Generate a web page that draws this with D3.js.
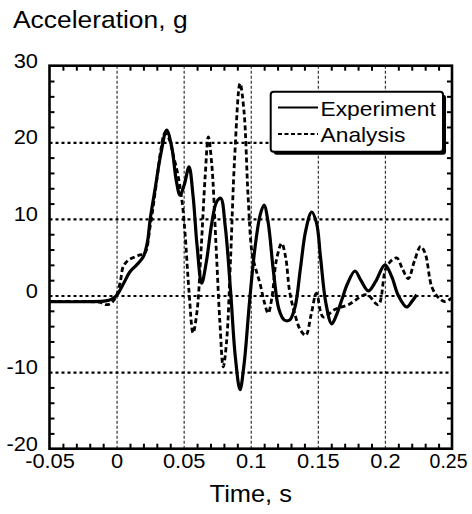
<html>
<head>
<script src="https://d3js.org/d3.v7.min.js"></script>
<style>
  body { margin: 0; background: #fff; }
  text { font-family: "Liberation Sans", Arial, Helvetica, sans-serif; fill: #000; }
  .domain { display: none; }
</style>
</head>
<body>
<svg width="472" height="514"></svg>
<script>
// values
var xTicks = [-0.05, 0, 0.05, 0.1, 0.15, 0.2, 0.25];
var xTickLabels = ["-0.05", "0", "0.05", "0.1", "0.15", "0.2", "0.25"];
var yTicks = [-20, -10, 0, 10, 20, 30];
var yTickLabels = ["-20", "-10", "0", "10", "20", "30"];
var xGrid = [0, 0.05, 0.1, 0.15, 0.2];
var yGrid = [-10, 0, 10, 20];

var expTime = [-0.05, -0.02, -0.008, -0.004, 0, 0.005, 0.01, 0.015, 0.02, 0.023, 0.025, 0.0286, 0.033, 0.0373, 0.041, 0.0445, 0.0473, 0.0505, 0.054, 0.057, 0.060, 0.0634, 0.067, 0.071, 0.0745, 0.0776, 0.081, 0.085, 0.0885, 0.092, 0.095, 0.099, 0.103, 0.107, 0.1099, 0.113, 0.117, 0.121, 0.125, 0.129, 0.133, 0.137, 0.141, 0.1454, 0.149, 0.152, 0.156, 0.1603, 0.164, 0.168, 0.172, 0.1777, 0.182, 0.1876, 0.193, 0.2, 0.205, 0.21, 0.2162, 0.22, 0.2237];
var expAcc = [-0.8, -0.8, -0.7, -0.5, 0.0, 1.5, 3.1, 4.0, 5.1, 7.0, 9.9, 13.8, 18.5, 21.6, 19.5, 15.0, 13.1, 14.5, 16.8, 13, 6.5, 1.6, 4.5, 9.5, 12.2, 12.7, 9, 0.5, -8, -12.3, -9, -1, 6, 10.5, 11.8, 9.5, 3, -1.8, -3.2, -3.2, -1.5, 3.5, 8.5, 10.9, 9.5, 5, -1, -3.7, -2.5, -0.5, 1.5, 3.2, 2.0, 0.6, 1.8, 4.0, 2.5, 0, -1.5, -0.8, 0.1];

var anaTime = [-0.05, -0.02, -0.012, -0.008, -0.004, 0, 0.003, 0.005, 0.0087, 0.013, 0.0174, 0.021, 0.025, 0.03, 0.033, 0.036, 0.039, 0.042, 0.046, 0.049, 0.051, 0.054, 0.057, 0.06, 0.063, 0.066, 0.0684, 0.071, 0.074, 0.077, 0.0795, 0.082, 0.085, 0.088, 0.092, 0.095, 0.098, 0.101, 0.104, 0.107, 0.11, 0.113, 0.116, 0.119, 0.123, 0.126, 0.129, 0.133, 0.137, 0.141, 0.145, 0.149, 0.154, 0.163, 0.1727, 0.1864, 0.195, 0.2013, 0.2087, 0.213, 0.2174, 0.222, 0.2266, 0.23, 0.235, 0.24, 0.2448, 0.25];
var anaAcc = [-0.8, -0.8, -0.9, -1.2, -1.0, 0.0, 2.0, 3.8, 4.6, 5.0, 5.3, 5.5, 9.0, 15.1, 19, 21.2, 20.5, 18.5, 15.5, 12, 8.2, 0.5, -4.9, -2, 6, 15.5, 20.7, 17, 7, -3.5, -9.3, -6, 5, 18, 27.7, 24, 13, 5.5, 3.3, 1.5, -0.8, -2.3, 0, 4.5, 6.8, 5, 0.5, -2.5, -4.5, -5.2, -2.5, 0.3, -2.8, -1.8, -1.2, 0.1, -1.2, 3.8, 4.9, 3.5, 2.2, 4.5, 6.4, 5.5, 1.1, -0.3, -0.8, -0.3];

var margin = {top: 65.7, left: 49.5};
var width = 402.5, height = 383;
var sx = 1.12;  // glyphs in the picture are a bit wider than Arial

var x = d3.scaleLinear().domain([-0.05, 0.25]).range([0, width]);
var y = d3.scaleLinear().domain([-20, 30]).range([height, 0]);

var svg = d3.select("svg");
var g = svg.append("g").attr("transform", "translate(" + margin.left + "," + margin.top + ")");

// grid
g.append("g").attr("transform", "translate(0," + height + ")")
  .call(d3.axisBottom(x).tickValues(xGrid).tickSize(-height).tickFormat(""))
  .selectAll("line").attr("stroke", "#333").attr("stroke-width", 1.2).attr("stroke-dasharray", "3,2");
g.append("g")
  .call(d3.axisLeft(y).tickValues(yGrid).tickSize(-width).tickFormat(""))
  .selectAll("line").attr("stroke", "#000").attr("stroke-width", 2.2).attr("stroke-dasharray", "3,3");

// minor ticks, inward on all four sides
var xMinor = d3.range(-4, 25).filter(function(v){ return v % 5 != 0; }).map(function(v){ return v / 100; });
var yMinor = d3.range(-18, 30, 2).filter(function(v){ return v % 10 != 0; });
function styleTicks(sel) { sel.selectAll("line").attr("stroke", "#000").attr("stroke-width", 2); }
g.append("g").attr("transform", "translate(0," + height + ")")
  .call(d3.axisBottom(x).tickValues(xMinor).tickSize(-5).tickFormat("")).call(styleTicks);
g.append("g")
  .call(d3.axisTop(x).tickValues(xMinor).tickSize(-5).tickFormat("")).call(styleTicks);
g.append("g")
  .call(d3.axisLeft(y).tickValues(yMinor).tickSize(-5).tickFormat("")).call(styleTicks);
g.append("g").attr("transform", "translate(" + width + ",0)")
  .call(d3.axisRight(y).tickValues(yMinor).tickSize(-5).tickFormat("")).call(styleTicks);

// curves
var line = d3.line().curve(d3.curveCatmullRom.alpha(0.5))
  .x(function(d){ return x(d[0]); }).y(function(d){ return y(d[1]); });
svg.append("clipPath").attr("id", "clip").append("rect").attr("width", width).attr("height", height);
g.append("path").datum(d3.zip(anaTime, anaAcc)).attr("d", line).attr("clip-path", "url(#clip)")
  .attr("fill", "none").attr("stroke", "#000").attr("stroke-width", 2.8).attr("stroke-dasharray", "5,3");
g.append("path").datum(d3.zip(expTime, expAcc)).attr("d", line).attr("clip-path", "url(#clip)")
  .attr("fill", "none").attr("stroke", "#000").attr("stroke-width", 3.2).attr("stroke-linejoin", "round");

// frame
g.append("rect").attr("width", width).attr("height", height)
  .attr("fill", "none").attr("stroke", "#000").attr("stroke-width", 2.6);

// tick labels
var xl = g.append("g").attr("transform", "translate(0," + height + ")")
  .call(d3.axisBottom(x).tickValues(xTicks).tickSize(0).tickFormat(function(d, i){ return xTickLabels[i]; }));
xl.selectAll("text").attr("font-size", 19.5).attr("y", 0).attr("dy", 0)
  .attr("transform", "translate(0,19) scale(" + sx + ",1)");
// last label sits pulled in against the right edge, as in the picture
xl.selectAll("text").filter(function(d, i){ return i === xTicks.length - 1; })
  .attr("text-anchor", "end").attr("transform", "translate(15,19)");
var yl = g.append("g")
  .call(d3.axisLeft(y).tickValues(yTicks).tickSize(0).tickFormat(function(d, i){ return yTickLabels[i]; }));
yl.selectAll("text").attr("font-size", 19.5).attr("x", 0).attr("dy", 0)
  .attr("transform", "translate(-11.5,1.5) scale(" + sx + ",1)");

// axis titles
svg.append("text").attr("transform", "translate(13,28) scale(1.1,1)")
  .attr("font-size", 24).text("Acceleration, g");
svg.append("text").attr("transform", "translate(" + (margin.left + width / 2) + ",502) scale(1.06,1)")
  .attr("font-size", 24).attr("text-anchor", "middle").text("Time, s");

// legend
var lg = svg.append("g");
lg.append("rect").attr("x", 273.7).attr("y", 94.7).attr("width", 172.3).attr("height", 60)
  .attr("rx", 3).attr("fill", "#000");
lg.append("rect").attr("x", 270.7).attr("y", 91.7).attr("width", 172.3).attr("height", 60)
  .attr("rx", 3).attr("fill", "#fff").attr("stroke", "#000").attr("stroke-width", 2);
lg.append("line").attr("x1", 278).attr("x2", 318).attr("y1", 107.5).attr("y2", 107.5)
  .attr("stroke", "#000").attr("stroke-width", 2);
lg.append("line").attr("x1", 278).attr("x2", 318).attr("y1", 134).attr("y2", 134)
  .attr("stroke", "#000").attr("stroke-width", 2).attr("stroke-dasharray", "4,2.5");
lg.append("text").attr("transform", "translate(320.5,116) scale(1.14,1)")
  .attr("font-size", 20).text("Experiment");
lg.append("text").attr("transform", "translate(320.5,142.3) scale(1.14,1)")
  .attr("font-size", 20).text("Analysis");
</script>
</body>
</html>
